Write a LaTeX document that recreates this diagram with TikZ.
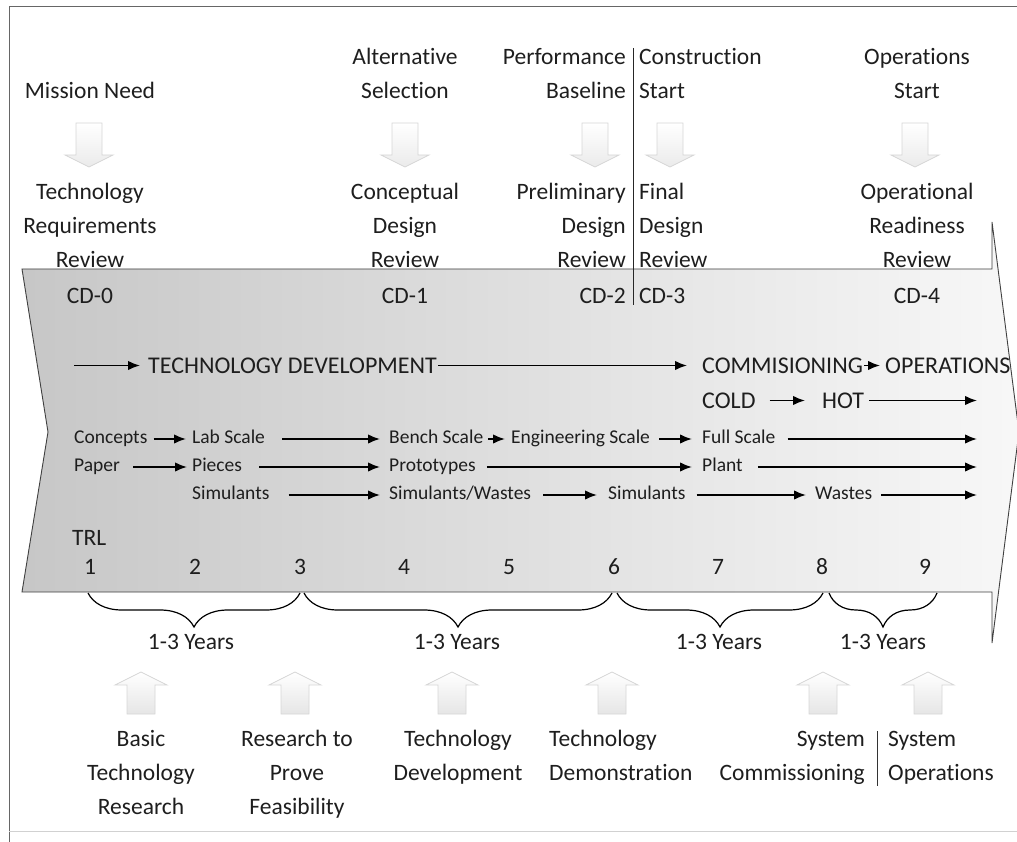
\documentclass[tikz,border=0pt]{standalone}
\usepackage{fontspec}
\setmainfont{Carlito}[Ligatures=NoCommon]
\usetikzlibrary{arrows.meta,decorations.pathreplacing}
\definecolor{txt}{HTML}{1E1E1E}
\newcommand\hollowdown[1]{\path[hollow,top color=white,bottom color=black!8] (#1-13,123) -- (#1+13,123) -- (#1+13,155) -- (#1+24,155) -- (#1,167) -- (#1-24,155) -- (#1-13,155) -- cycle;}
\newcommand\hollowup[1]{\path[hollow,top color=white,bottom color=black!10] (#1-14,714) -- (#1+14,714) -- (#1+14,685) -- (#1+26,685) -- (#1,672) -- (#1-26,685) -- (#1-14,685) -- cycle;}
\begin{document}
\begin{tikzpicture}[x=1pt,y=-1pt,
  every node/.style={inner sep=0pt,text=txt},
  lab/.style={font=\fontsize{23.5}{34}\selectfont,align=center,anchor=base},
  labL/.style={lab,align=left,anchor=base west},
  labR/.style={lab,align=right,anchor=base east},
  big/.style={font=\fontsize{24}{28}\selectfont,text height=16pt,text depth=1pt,anchor=base west},
  sm/.style={font=\fontsize{19.5}{24}\selectfont,text height=13pt,text depth=5pt,anchor=base west},
  arr/.style={line width=1.7pt,-{Latex[length=12pt,width=9.5pt]}},
  hollow/.style={draw=black!16,line width=0.8pt},
  brc/.style={line width=1.2pt,decorate,decoration={brace,mirror,amplitude=34pt}},
  sepline/.style={line width=1pt,black!85}]
\useasboundingbox (0,0) rectangle (1017,842);
% frame
\draw[black!60,line width=0.8pt] (1017,6) -- (9,6) -- (9,842);
\draw[black!18,line width=0.8pt] (9,831) -- (1017,831);
% big arrow band
\path[draw=black!75,line width=0.9pt,left color=black!22,middle color=black!14,right color=black!3]
  (22,269) -- (992,269) -- (992,222) -- (1019,432) -- (992,643) -- (992,592) -- (22,592) -- (48,432) -- cycle;
% top labels (base anchor = baseline of the last line)
\node[lab] (mn) at (90,99) {Mission Need};
\node[lab] (alt) at (405,99) {Alternative\\Selection};
\node[labR] (perf) at (626,99) {Performance\\Baseline};
\node[labL] (cons) at (639,99) {Construction\\Start};
\node[lab] (ops) at (917,99) {Operations\\Start};
\hollowdown{89}\hollowdown{405}\hollowdown{595}\hollowdown{670}\hollowdown{915}
\node[lab] (trr) at (90,268) {Technology\\Requirements\\Review};
\node[lab] (cdr) at (405,268) {Conceptual\\Design\\Review};
\node[labR] (pdr) at (626,268) {Preliminary\\Design\\Review};
\node[labL] (fdr) at (639,268) {Final\\Design\\Review};
\node[lab] (orr) at (917,268) {Operational\\Readiness\\Review};
\node[lab] (cd0) at (90,303) {CD-0};
\node[lab] (cd1) at (405,303) {CD-1};
\node[labR] (cd2) at (626,303) {CD-2};
\node[labL] (cd3) at (639,303) {CD-3};
\node[lab] (cd4) at (917,303) {CD-4};
\coordinate (septop) at (633,48);
\coordinate (sepbot) at (633,305);
\draw[sepline] (septop) -- (sepbot);
% technology development row
\coordinate (tdstart) at (74,365.5);
\node[big] (td) at (148,373) {TECHNOLOGY DEVELOPMENT};
\node[big] (comm) at (702,373) {COMMISIONING};
\node[big] (oper) at (885,373) {OPERATIONS};
\draw[arr,shorten >=8pt] (tdstart) -- (td.west);
\draw[arr,shorten <=1pt,shorten >=15pt] (td.east) -- (comm.west);
\draw[arr,shorten <=1pt,shorten >=5pt] (comm.east) -- (oper.west);
% cold / hot
\node[big] (cold) at (702,408) {COLD};
\node[big] (hot) at (822,408) {HOT};
\coordinate (hotend) at (977,400.5);
\draw[arr,shorten <=14pt,shorten >=17pt] (cold.east) -- (hot.west);
\draw[arr,shorten <=5pt] (hot.east) -- (hotend);
% row 1
\node[sm] (concepts) at (74,443) {Concepts};
\node[sm] (labsc) at (192,443) {Lab Scale};
\node[sm] (bench) at (389,443) {Bench Scale};
\node[sm] (eng) at (511,443) {Engineering Scale};
\node[sm] (full) at (702,443) {Full Scale};
\coordinate (fullend) at (977,439);
\draw[arr,shorten <=6pt,shorten >=6pt] (concepts.east) -- (labsc.west);
\draw[arr,shorten <=17pt,shorten >=9pt] (labsc.east) -- (bench.west);
\draw[arr,shorten <=5pt,shorten >=6pt] (bench.east) -- (eng.west);
\draw[arr,shorten <=9pt,shorten >=10pt] (eng.east) -- (full.west);
\draw[arr,shorten <=12pt] (full.east) -- (fullend);
% row 2
\node[sm] (paper) at (74,471) {Paper};
\node[sm] (pieces) at (192,471) {Pieces};
\node[sm] (proto) at (389,471) {Prototypes};
\node[sm] (plant) at (702,471) {Plant};
\coordinate (plantend) at (977,467);
\draw[arr,shorten <=13pt,shorten >=5pt] (paper.east) -- (pieces.west);
\draw[arr,shorten <=17pt,shorten >=9pt] (pieces.east) -- (proto.west);
\draw[arr,shorten <=11pt,shorten >=10pt] (proto.east) -- (plant.west);
\draw[arr,shorten <=15pt] (plant.east) -- (plantend);
% row 3
\node[sm] (simA) at (192,499) {Simulants};
\node[sm] (simw) at (389,499) {Simulants/Wastes};
\node[sm] (simB) at (608,499) {Simulants};
\node[sm] (wastes) at (815,499) {Wastes};
\coordinate (wastesend) at (977,495);
\draw[arr,shorten <=19pt,shorten >=9pt] (simA.east) -- (simw.west);
\draw[arr,shorten <=12pt,shorten >=11pt] (simw.east) -- (simB.west);
\draw[arr,shorten <=11pt,shorten >=9pt] (simB.east) -- (wastes.west);
\draw[arr,shorten <=9pt] (wastes.east) -- (wastesend);
% TRL
\node[lab,anchor=base west] (trl) at (72,545) {TRL};
\node[lab] (n1) at (90,574) {1};
\node[lab] (n2) at (195,574) {2};
\node[lab] (n3) at (300,574) {3};
\node[lab] (n4) at (404,574) {4};
\node[lab] (n5) at (509,574) {5};
\node[lab] (n6) at (614,574) {6};
\node[lab] (n7) at (718,574) {7};
\node[lab] (n8) at (822,574) {8};
\node[lab] (n9) at (925,574) {9};
% braces
\draw[brc] (88,593) -- (300,593);
\draw[brc] (304,593) -- (612,593);
\draw[brc] (617,593) -- (823,593);
\draw[brc] (829,593) -- (937,593);
\node[lab] (y1) at (191,649) {1-3 Years};
\node[lab] (y2) at (457,649) {1-3 Years};
\node[lab] (y3) at (719,649) {1-3 Years};
\node[lab] (y4) at (883,649) {1-3 Years};
% bottom arrows and labels
\hollowup{141}\hollowup{295}\hollowup{452}\hollowup{612}\hollowup{823}\hollowup{928}
\node[lab] (basic) at (141,814) {Basic\\Technology\\Research};
\node[lab] (rtp) at (297,814) {Research to\\Prove\\Feasibility};
\node[lab] (tdev) at (458,780) {Technology\\Development};
\node[labL] (demo) at (549,780) {Technology\\Demonstration};
\node[labR] (scomm) at (865,780) {System\\Commissioning};
\node[labL] (sops) at (888,780) {System\\Operations};
\coordinate (bseptop) at (877,731);
\coordinate (bsepbot) at (877,786);
\draw[line width=0.9pt,black!80] (bseptop) -- (bsepbot);
\end{tikzpicture}
\end{document}
